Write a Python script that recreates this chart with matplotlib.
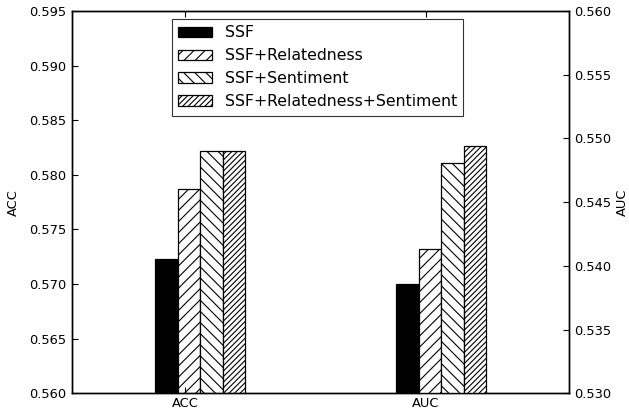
import numpy as np
import matplotlib
matplotlib.use("Agg")
import matplotlib.pyplot as plt

# Scores per feature set
series = ["SSF", "SSF+Relatedness", "SSF+Sentiment", "SSF+Relatedness+Sentiment"]
acc_values = [0.5723, 0.5787, 0.5822, 0.5822]
auc_values = [0.5386, 0.5413, 0.5481, 0.5494]
group_labels = ["ACC", "AUC"]
hatches = ["", "///", "\\\\\\", "//////"]
face_colors = ["black", "white", "white", "white"]

plt.rcParams["hatch.linewidth"] = 0.8

fig = plt.figure(figsize=(6.29, 4.13), dpi=100)
ax = fig.add_axes([0.1145, 0.0477, 0.7901, 0.9257])
ax2 = ax.twinx()

ind = np.arange(2)
width = 0.0937

handles = []
for i, name in enumerate(series):
    b = ax.bar(ind[0] + i * width, acc_values[i], width, align="edge",
               color=face_colors[i], edgecolor="black", hatch=hatches[i],
               linewidth=0.9, label=name)
    ax2.bar(ind[1] + i * width, auc_values[i], width, align="edge",
            color=face_colors[i], edgecolor="black", hatch=hatches[i],
            linewidth=0.9)
    handles.append(b)

ax.set_ylim(0.560, 0.595)
ax2.set_ylim(0.530, 0.560)
ax.set_xlim(-0.344, 1.718)
ax.set_yticks(np.arange(0.560, 0.5951, 0.005))
ax2.set_yticks(np.arange(0.530, 0.5601, 0.005))
ax.yaxis.set_major_formatter(matplotlib.ticker.FormatStrFormatter("%.3f"))
ax2.yaxis.set_major_formatter(matplotlib.ticker.FormatStrFormatter("%.3f"))

ax.set_xticks(ind + 0.1245)
ax.set_xticklabels(group_labels)

fs = 9.4
ax.tick_params(axis="both", direction="in", labelsize=fs, length=4, width=0.8,
               top=True, bottom=True, right=False, pad=4)
ax2.tick_params(axis="y", direction="in", labelsize=fs, length=4, width=0.8, pad=4)
ax.tick_params(axis="x", pad=3)
ax.set_ylabel("ACC", fontsize=fs, labelpad=7)
ax2.set_ylabel("AUC", fontsize=fs, labelpad=3)

for a in (ax, ax2):
    for s in a.spines.values():
        s.set_linewidth(1.0)

leg = ax.legend(handles=handles, loc="upper center", fontsize=11.3,
                frameon=True, fancybox=False, edgecolor="black",
                handlelength=2.15, handleheight=0.64, labelspacing=0.5,
                borderpad=0.42, borderaxespad=0.5, bbox_to_anchor=(0.494, 1.0))
leg.get_frame().set_linewidth(0.8)

fig.savefig("out.png", dpi=100)
